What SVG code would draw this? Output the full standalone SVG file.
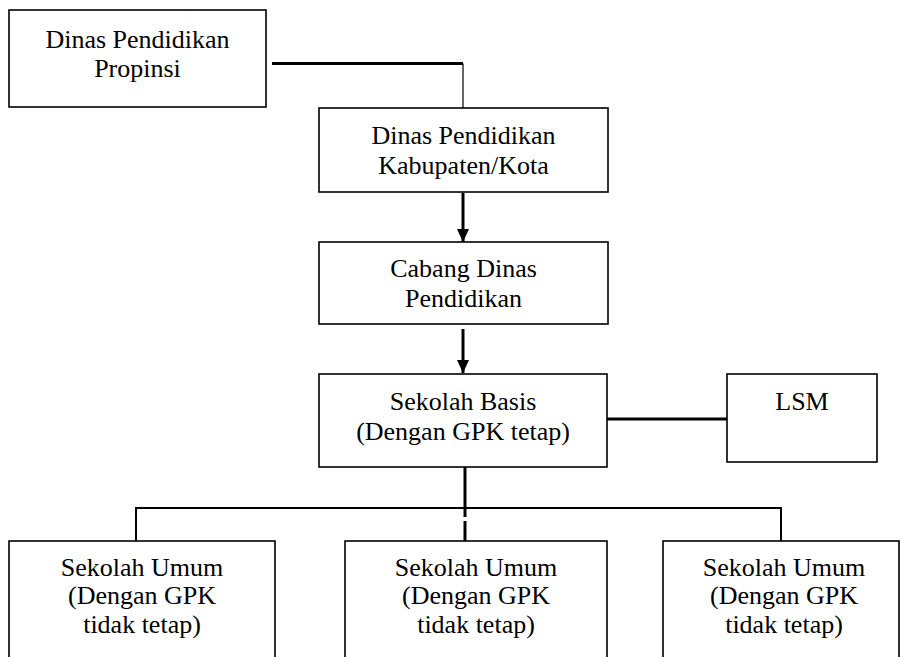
<svg xmlns="http://www.w3.org/2000/svg" width="901" height="657" viewBox="0 0 901 657">
<defs>
<style>
.box{fill:#fff;stroke:#000;stroke-width:1.6}
.t{font-family:'Liberation Serif','Times New Roman','DejaVu Serif',serif;font-size:26px;fill:#000;text-anchor:middle}
.thick{stroke:#000;stroke-width:3;fill:none}
.thin{stroke:#000;stroke-width:1.2;fill:none}
.mid{stroke:#000;stroke-width:2;fill:none}
</style>
<marker id="ah" markerWidth="13" markerHeight="12" refX="13" refY="6" orient="auto" markerUnits="userSpaceOnUse">
<path d="M0,0 L13,6 L0,12 Z" fill="#000"/>
</marker>
</defs>
<rect width="901" height="657" fill="#fff"/>
<g id="connectors">
<path class="thick" d="M272,63.5 H463"/>
<path class="thin" d="M463,63.5 V108"/>
<path class="thick" d="M463,193 V242" marker-end="url(#ah)"/>
<path class="thick" d="M463,329 V373" marker-end="url(#ah)"/>
<path class="thick" d="M607,419 H727"/>
<path class="thick" d="M465,467 V517"/>
<path class="thick" d="M465,521 V541"/>
<path class="mid" d="M136,541 V508 H781 V541"/>
</g>
<g font-family="Liberation Serif, Times New Roman, serif">
<g id="propinsi">
<rect class="box" x="9" y="10" width="257" height="97"/>
<text class="t" x="137.5" y="48">Dinas Pendidikan</text>
<text class="t" x="137.5" y="77">Propinsi</text>
</g>
<g id="kabupaten">
<rect class="box" x="319" y="108" width="289" height="84"/>
<text class="t" x="463.5" y="144">Dinas Pendidikan</text>
<text class="t" x="463.5" y="174">Kabupaten/Kota</text>
</g>
<g id="cabang">
<rect class="box" x="319" y="242" width="289" height="82"/>
<text class="t" x="463.5" y="277">Cabang Dinas</text>
<text class="t" x="463.5" y="307">Pendidikan</text>
</g>
<g id="basis">
<rect class="box" x="319" y="374" width="288" height="93"/>
<text class="t" x="463" y="410">Sekolah Basis</text>
<text class="t" x="463" y="440">(Dengan GPK tetap)</text>
</g>
<g id="lsm">
<rect class="box" x="727" y="374" width="150" height="88"/>
<text class="t" x="802" y="410">LSM</text>
</g>
<g id="umum1">
<rect class="box" x="9" y="541" width="266" height="130"/>
<text class="t" x="142" y="576">Sekolah Umum</text>
<text class="t" x="142" y="604">(Dengan GPK</text>
<text class="t" x="142" y="633">tidak tetap)</text>
</g>
<g id="umum2">
<rect class="box" x="345" y="541" width="262" height="130"/>
<text class="t" x="476" y="576">Sekolah Umum</text>
<text class="t" x="476" y="604">(Dengan GPK</text>
<text class="t" x="476" y="633">tidak tetap)</text>
</g>
<g id="umum3">
<rect class="box" x="663" y="541" width="236" height="130"/>
<text class="t" x="784" y="576">Sekolah Umum</text>
<text class="t" x="784" y="604">(Dengan GPK</text>
<text class="t" x="784" y="633">tidak tetap)</text>
</g>
</g>
</svg>
